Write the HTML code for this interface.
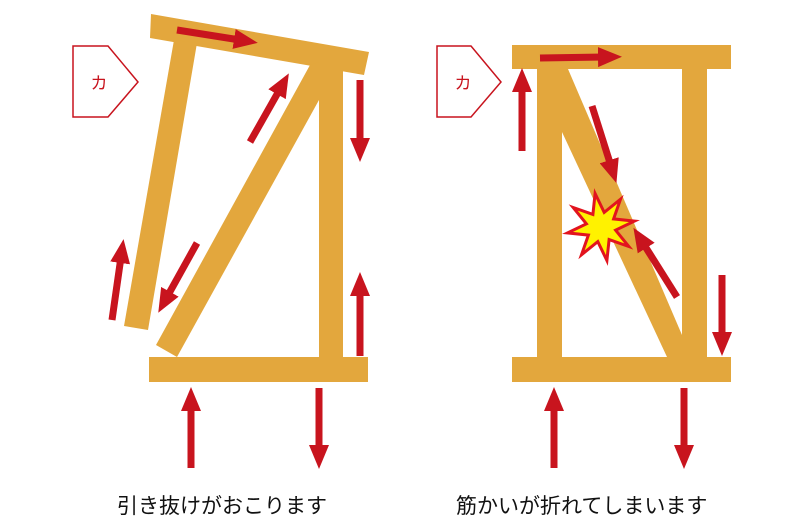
<!DOCTYPE html>
<html><head><meta charset="utf-8"><style>
html,body{margin:0;padding:0;background:#fff;}
svg{display:block;}
</style></head><body>
<svg width="800" height="530" viewBox="0 0 800 530" xmlns="http://www.w3.org/2000/svg">
<defs>
<marker id="a" markerUnits="userSpaceOnUse" markerWidth="30" markerHeight="24" viewBox="0 -12 30 24" refX="6" refY="0" orient="auto"><path d="M0,-10 L24,0 L0,10z" fill="#c8141e"/></marker>
</defs>
<g fill="#e3a73d">
<!-- left frame -->
<polygon points="151,14 369,52 364,75 150,38"/>
<polygon points="174,40 197,43 148,330 124,326"/>
<rect x="319" y="58" width="24" height="300"/>
<polygon points="310,65 319,62 319,100 177,357 156,345"/>
<rect x="149" y="357" width="219" height="25"/>
<!-- right frame -->
<rect x="512" y="45" width="219" height="24"/>
<rect x="512" y="357" width="219" height="25"/>
<rect x="537" y="69" width="25" height="288"/>
<rect x="682" y="69" width="25" height="288"/>
<polygon points="562,69 568,69 682,335 682,357 667,357 562,132"/>
</g>
<g stroke="#c8141e" stroke-width="7" marker-end="url(#a)">
<line x1="177" y1="30" x2="240" y2="40"/>
<line x1="250" y1="142" x2="280" y2="89"/>
<line x1="360" y1="80" x2="360" y2="144"/>
<line x1="197" y1="243" x2="167" y2="297"/>
<line x1="112" y1="320" x2="121" y2="257"/>
<line x1="360" y1="356" x2="360" y2="290"/>
<line x1="191" y1="468" x2="191" y2="405"/>
<line x1="319" y1="388" x2="319" y2="451"/>
<line x1="540" y1="58" x2="604" y2="57"/>
<line x1="522" y1="151" x2="522" y2="86"/>
<line x1="592" y1="106" x2="611" y2="166"/>
<line x1="677" y1="297" x2="643" y2="243"/>
<line x1="722" y1="275" x2="722" y2="338"/>
<line x1="554" y1="468" x2="554" y2="405"/>
<line x1="684" y1="388" x2="684" y2="451"/>
</g>
<polygon fill="#fff200" stroke="#e2141e" stroke-width="3" stroke-linejoin="miter" points="595.1,193.5 604.2,212.4 620.5,199.2 613.6,218.9 634.5,221.1 615.6,230.2 628.8,246.5 609.1,239.6 606.9,260.5 597.8,241.6 581.5,254.8 588.4,235.1 567.5,232.9 586.4,223.8 573.2,207.5 592.9,214.4"/>
<g fill="#fff" stroke="#c8141e" stroke-width="1.5">
<polygon points="73,46 108,46 138,82 108,117 73,117"/>
<polygon points="437,46 471,46 501,82 471,117 437,117"/>
</g>
<g font-family="'Liberation Sans','Noto Sans CJK JP',sans-serif" fill="#c8141e" font-size="17" text-anchor="middle">
<text x="99" y="89">カ</text>
<text x="463" y="89">カ</text>
</g>
<g font-family="'Liberation Sans','Noto Sans CJK JP',sans-serif" fill="#111" font-size="21">
<text x="117" y="513">引き抜けがおこります</text>
<text x="456" y="513">筋かいが折れてしまいます</text>
</g>
</svg>
</body></html>
